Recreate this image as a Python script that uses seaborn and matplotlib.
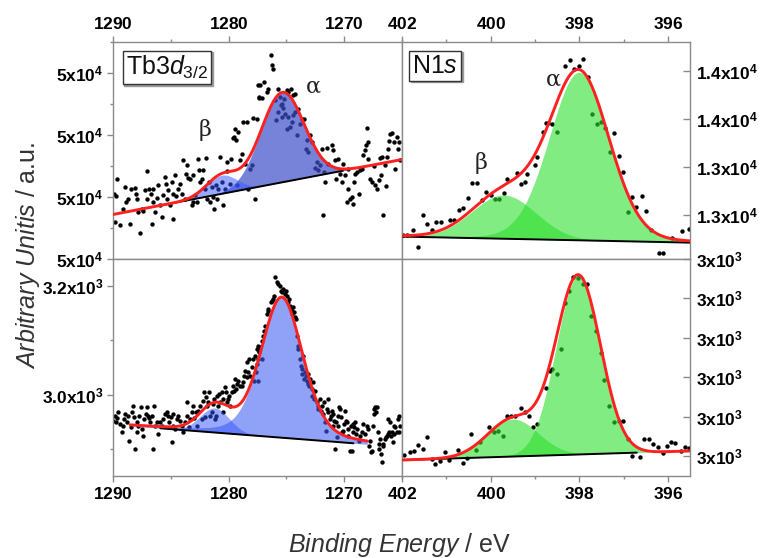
import numpy as np
import matplotlib
matplotlib.use("Agg")
import matplotlib.pyplot as plt
import matplotlib.transforms as mtransforms
from matplotlib.ticker import FixedLocator, FuncFormatter
import seaborn as sns

# -----------------------------
# Data
# -----------------------------
# Tb 3d3/2, upper panel (binding energy eV, counts)
tl_x = [1289.91, 1289.62, 1289.74, 1289.83, 1289.39, 1288.96, 1288.87, 1289.11, 1288.67, 1288.53,
        1288.47, 1288.10, 1288.01, 1287.95, 1287.81, 1287.66, 1287.52, 1287.37, 1287.23, 1287.09,
        1287.03, 1286.85, 1286.74, 1286.65, 1286.57, 1286.51, 1286.36, 1286.22, 1286.08, 1285.93,
        1285.79, 1285.64, 1285.50, 1285.41, 1285.30, 1285.21, 1285.07, 1284.92, 1284.83, 1284.78,
        1284.63, 1284.55, 1284.34, 1284.20, 1284.06, 1283.97, 1283.77, 1283.68, 1283.56, 1283.48,
        1283.33, 1283.19, 1283.10, 1283.05, 1282.90, 1282.70, 1282.61, 1282.53, 1282.47, 1282.32,
        1282.18, 1282.03, 1281.95, 1281.83, 1281.66, 1281.60, 1281.46, 1281.31, 1281.26, 1281.08,
        1280.97, 1280.88, 1280.74, 1280.59, 1280.45, 1280.30, 1280.16, 1280.10, 1279.87, 1279.81,
        1279.64, 1279.52, 1279.44, 1279.35, 1279.29, 1279.15, 1279.00, 1278.86, 1278.72, 1278.57,
        1278.43, 1278.28, 1278.14, 1277.99, 1277.85, 1277.71, 1277.56, 1277.42, 1277.33,
        1276.32, 1276.21, 1276.12, 1277.28, 1276.90, 1276.70, 1277.36, 1277.07, 1276.56, 1275.98,
        1275.75, 1275.55, 1275.40, 1275.17, 1274.97, 1274.82, 1274.59, 1274.39, 1274.25, 1275.69,
        1275.46, 1275.26, 1275.11, 1275.92, 1275.40, 1274.97, 1274.82, 1274.68, 1274.54, 1274.39,
        1274.25, 1274.10, 1273.96, 1273.81, 1273.67, 1273.44, 1273.24, 1273.09, 1273.32, 1272.95,
        1272.80, 1272.52, 1272.37, 1272.23, 1272.08, 1271.94, 1271.71, 1271.79, 1271.65, 1271.50,
        1271.36, 1271.07, 1270.93, 1270.78, 1270.73, 1270.50, 1270.35, 1270.21, 1270.06, 1269.92,
        1269.77, 1269.69, 1269.63, 1269.48, 1269.34, 1269.20, 1269.11, 1269.05, 1268.91, 1268.76,
        1268.62, 1268.47, 1268.33, 1268.24, 1268.13, 1268.04, 1267.96, 1267.90, 1267.75, 1267.61,
        1267.46, 1267.32, 1267.18, 1267.03, 1266.89, 1266.80, 1266.74, 1266.60, 1266.51, 1266.40,
        1266.31, 1266.17, 1266.11, 1266.02, 1265.88, 1265.73, 1265.59, 1265.44, 1265.36, 1265.24,
        1265.16]
tl_y = [48110, 48570, 48034, 47195, 47109, 48324, 47840, 47625, 47948, 47141,
        48249, 48292, 48109, 47948, 47518, 46851, 47625, 47539, 48216, 48829,
        47948, 48270, 48109, 47141, 47840, 48270, 47518, 47969, 48378, 47733,
        47356, 48077, 48646, 48431, 47948, 48216, 47733, 48485, 48109, 47303,
        48700, 48034, 48270, 48431, 48109, 49184, 47948, 48754, 49044, 48614,
        48593, 47733, 47840, 48700, 48055, 47840, 49216, 48861, 48485, 48571,
        48861, 48270, 49259, 47948, 48485, 47840, 48324, 48001, 47625, 48399,
        47948, 48270, 49291, 48485, 47733, 48270, 49130, 48829, 48431, 49238,
        49904, 49936, 50184, 49829, 48378, 50098, 49184, 49399, 50420, 49076,
        50420, 48270, 48915, 49023, 50549, 47948, 50528, 51603, 51226,
        52570, 52248, 52140, 51603, 51710, 51388, 51194, 51194, 51495, 51119,
        51495, 51226, 51011, 51173, 51441, 51388, 51495, 51280, 51334, 50743,
        50958, 50872, 50689, 50474, 50581, 50205, 50581, 50259, 50420, 50635,
        50743, 49990, 50850, 50366, 50528, 50528, 49829, 49453, 49560, 49990,
        49775, 48937, 49130, 48861, 49023, 49560, 48808, 47410, 48485, 49582,
        49076, 49668, 49506, 49184, 48593, 49238, 48754, 48485, 49076, 48700,
        47840, 48270, 48915, 47948, 48001, 47786, 48485, 48754, 48808, 48109,
        48861, 48915, 49345, 49506, 49668, 50227, 49775, 49238, 48571, 48485,
        49001, 48378, 48270, 48539, 49259, 48700, 49291, 47410, 49044, 48356,
        49291, 49560, 49797, 50044, 50076, 49775, 48915, 49936, 49560, 49775,
        49184]

# Tb 3d3/2, lower panel
bl_x = [1289.97, 1289.83, 1289.74, 1289.63, 1289.54, 1289.39, 1289.25, 1289.16, 1289.05, 1288.96,
        1288.82, 1288.67, 1288.59, 1288.47, 1288.38, 1288.24, 1288.18, 1288.10, 1287.95, 1287.89,
        1287.81, 1287.72, 1287.61, 1287.52, 1287.37, 1287.32, 1287.14, 1287.03, 1286.94, 1286.85,
        1286.80, 1286.65, 1286.57, 1286.45, 1286.36, 1286.22, 1286.08, 1285.93, 1285.79, 1285.64,
        1285.50, 1285.35, 1285.21, 1285.12, 1285.01, 1284.92, 1284.83, 1284.78, 1284.63, 1284.49,
        1284.34, 1284.20, 1284.06, 1283.91, 1283.77, 1283.62, 1283.56, 1283.39, 1283.33, 1283.19,
        1283.05, 1282.99, 1282.82, 1282.70, 1282.61, 1282.47, 1282.32, 1282.24, 1282.12, 1282.03,
        1281.95, 1281.89, 1281.75, 1281.66, 1281.60, 1281.46, 1281.37, 1281.26, 1281.17, 1281.08,
        1281.02, 1280.88, 1280.79, 1280.74, 1280.59, 1280.51, 1280.45, 1280.30, 1280.22, 1280.10,
        1280.01, 1279.93, 1279.87, 1279.73, 1279.58, 1279.52, 1279.44, 1279.35, 1279.29, 1279.15,
        1279.00, 1278.86, 1278.72, 1278.66, 1278.57, 1278.43, 1278.37, 1278.28, 1278.20, 1278.14,
        1277.99, 1277.85, 1277.79, 1277.71, 1277.56, 1277.42, 1277.33,
        1275.98, 1275.83, 1275.69, 1275.55, 1275.46, 1275.34, 1275.26, 1275.11, 1275.06, 1274.97,
        1276.27, 1276.12, 1276.04, 1276.32, 1274.82, 1274.77, 1274.68, 1274.59, 1274.54, 1274.48,
        1274.39, 1274.30, 1274.25, 1274.19, 1276.61, 1276.56, 1276.70, 1276.84, 1276.90, 1276.99,
        1277.13, 1277.28, 1277.36, 1277.48, 1277.57, 1277.13, 1277.65, 1277.42, 1274.10, 1274.02,
        1273.96, 1273.81, 1273.73, 1273.67, 1273.61, 1273.53, 1273.44, 1273.38, 1273.32, 1273.24,
        1273.15, 1273.09, 1273.03, 1272.95, 1272.80, 1272.75, 1272.66, 1272.57, 1272.52, 1272.37,
        1272.28, 1272.23, 1272.08, 1272.00, 1271.94, 1271.79, 1271.71, 1271.65, 1271.59, 1271.51,
        1271.42, 1271.36, 1271.22, 1271.13, 1271.07, 1271.01, 1270.93, 1270.84, 1270.78, 1270.72,
        1270.64, 1270.55, 1270.50, 1270.44, 1270.35, 1270.27, 1270.15, 1270.06, 1269.98, 1269.92,
        1269.86, 1269.77, 1269.69, 1269.63, 1269.48, 1269.40, 1269.34, 1269.28, 1269.20, 1269.11,
        1269.05, 1268.99, 1268.91, 1268.76, 1268.62, 1268.47, 1268.33, 1268.19, 1268.04, 1267.90,
        1267.84, 1267.75, 1267.67, 1267.61, 1267.55, 1267.46, 1267.38, 1267.32, 1267.27, 1267.18,
        1267.09, 1267.03, 1266.97, 1266.89, 1266.80, 1266.74, 1266.68, 1266.60, 1266.51, 1266.40,
        1266.31, 1266.23, 1266.17, 1266.11, 1266.02, 1265.94, 1265.88, 1265.82, 1265.73, 1265.65,
        1265.59, 1265.44, 1265.36, 1265.30, 1265.24, 1265.16]
bl_y = [2952.9, 2962.0, 2949.8, 2957.2, 2968.2, 2946.8, 2931.5, 2943.7, 2955.9, 2965.1,
        2949.8, 2962.0, 2916.2, 2940.6, 2968.2, 2980.4, 2959.0, 2900.9, 2931.5, 2949.8,
        2943.7, 2962.0, 2977.3, 2937.6, 2925.4, 2955.9, 2965.1, 2977.3, 2962.0, 2957.2,
        2949.8, 2962.0, 2900.9, 2980.4, 2943.7, 2949.8, 2928.4, 2949.8, 2943.7, 2955.9,
        2965.1, 2968.2, 2962.0, 2949.8, 2959.0, 2914.3, 2943.7, 2965.1, 2937.6, 2955.9,
        2962.0, 2952.9, 2943.7, 2931.5, 2949.8, 2986.5, 2962.0, 2940.6, 2955.9, 2968.2,
        2980.4, 2957.2, 2968.2, 2943.7, 2971.2, 2980.4, 2955.9, 2989.6, 3006.1, 2959.0,
        2995.7, 2980.4, 2986.5, 3004.9, 2962.0, 2968.2, 2983.5, 2992.6, 2955.9, 2962.0,
        2998.7, 2980.4, 3001.8, 2986.5, 3004.9, 2968.2, 2992.6, 3014.0, 3004.9, 2986.5,
        2992.6, 2998.7, 2980.4, 3004.9, 3017.1, 3007.9, 3029.3, 3011.0, 3020.2, 3026.3,
        3017.1, 3017.1, 3023.2, 3034.2, 3044.6, 3059.9, 3032.4, 3041.6, 3066.0, 3035.4,
        3050.7, 3066.0, 3026.3, 3072.1, 3084.4, 3090.5, 3081.3,
        3215.9, 3206.7, 3203.6, 3200.6, 3191.4, 3188.3, 3194.5, 3185.3, 3191.4, 3182.2,
        3173.1, 3176.1, 3182.2, 3170.0, 3170.0, 3176.1, 3163.9, 3157.8, 3154.7, 3148.6,
        3160.8, 3151.6, 3142.5, 3139.4, 3157.8, 3154.7, 3148.6, 3127.2, 3118.0, 3108.8,
        3099.7, 3087.4, 3078.3, 3066.0, 3056.8, 3066.0, 3041.6, 3026.3, 3108.8, 3084.4,
        3090.5, 3066.0, 3053.8, 3047.7, 3038.5, 3072.1, 3029.3, 3041.6, 3035.4, 3026.3,
        3020.2, 3038.5, 3017.1, 3029.3, 3011.0, 2998.7, 3023.2, 2992.6, 3007.9, 2986.5,
        2974.3, 2980.4, 2992.6, 2971.2, 2980.4, 2965.1, 2986.5, 2949.8, 2934.5, 2974.3,
        2968.2, 2992.6, 2955.9, 2962.0, 2971.2, 2943.7, 2965.1, 2952.9, 2900.9, 2949.8,
        2922.3, 2943.7, 2962.0, 2977.3, 2974.3, 2959.0, 2931.5, 2934.5, 2946.8, 2971.2,
        2952.9, 2949.8, 2937.6, 2925.4, 2897.8, 2943.7, 2897.8, 2931.5, 2946.8, 2940.6,
        2949.8, 2928.4, 2937.6, 2916.2, 2925.4, 2931.5, 2946.8, 2928.4, 2943.7, 2937.6,
        2907.0, 2916.2, 2896.0, 2897.8, 2943.7, 2965.1, 2974.3, 2977.3, 2968.2, 2977.3,
        2931.5, 2900.9, 2910.1, 2919.2, 2891.7, 2876.4, 2907.0, 2910.1, 2919.2, 2922.3,
        2925.4, 2928.4, 2955.9, 2931.5, 2949.8, 2925.4, 2931.5, 2913.1, 2943.7, 2928.4,
        2940.6, 2931.5, 2955.9, 2962.0, 2931.5, 2943.7]

# N 1s, upper panel
tr_x = [401.97, 401.88, 401.76, 401.63, 401.53, 401.43, 401.33, 401.23, 401.13, 400.92,
        400.83, 400.71, 400.62, 400.50, 400.41, 400.30, 400.20, 400.11, 400.00, 399.90,
        399.80, 399.70, 399.62, 399.41, 399.32, 399.23, 399.17, 399.00, 398.95, 398.81,
        398.74, 398.71, 398.61, 398.51, 398.31, 398.21, 398.11, 398.01, 397.91, 397.81,
        397.71, 397.61, 397.51, 397.41, 397.21, 397.31, 397.10, 397.01, 396.80, 396.71,
        396.59, 396.50, 396.91, 396.38, 395.90, 395.69, 395.53, 396.20, 396.10]
tr_y = [13118, 13118, 13136, 13067, 13201, 13164, 13136, 13171, 13171, 13178,
        13178, 13222, 13231, 13271, 13335, 13335, 13261, 13296, 13282, 13268,
        13268, 13293, 13351, 13376, 13331, 13338, 13372, 13410, 13442, 13546,
        13585, 13585, 13578, 13546, 13821, 13844, 13810, 13821, 13849, 13775,
        13619, 13581, 13587, 13562, 13543, 13462, 13446, 13379, 13275, 13233,
        13279, 13215, 13212, 13136, 13104, 13132, 13140, 13043, 13043]

# N 1s, lower panel
br_x = [401.96, 401.83, 401.74, 401.63, 401.53, 401.44, 401.33, 401.26, 401.14, 401.04,
        400.93, 400.73, 400.63, 400.54, 400.44, 400.33, 400.24, 400.03, 399.92, 399.83,
        399.73, 399.64, 399.55, 399.45, 399.32, 399.23, 399.13, 399.04, 398.95, 398.74,
        398.66, 398.62, 398.51, 398.41, 398.31, 398.23, 398.14, 398.02, 397.91, 397.83,
        397.74, 397.63, 397.51, 397.44, 397.33, 397.21, 397.10, 397.01, 396.91, 396.80,
        396.63, 396.53, 396.43, 396.33, 396.22, 396.10, 396.01, 395.92, 395.83, 395.71,
        395.62, 395.53]
br_y = [2902.6, 2911.0, 2913.5, 2927.9, 2917.8, 2947.4, 2892.4, 2879.7, 2888.2, 2911.0,
        2890.7, 2916.1, 2882.2, 2894.1, 2955.8, 2916.1, 2936.4, 2972.8, 2960.1, 2964.3,
        2951.6, 3002.4, 3000.7, 3000.7, 3021.8, 3012.5, 3002.4, 2974.5, 2981.2, 3071.8,
        3116.6, 3120.8, 3108.1, 3171.6, 3288.3, 3319.6, 3353.5, 3350.9, 3336.6, 3336.6,
        3254.5, 3218.1, 3161.4, 3093.7, 3027.8, 2985.5, 2989.7, 2989.7, 2943.2, 2900.9,
        2896.6, 2943.2, 2943.2, 2930.5, 2922.0, 2907.6, 2924.5, 2934.7, 2933.0, 2913.5,
        2922.0, 2919.5]

# fitted peaks: centre (eV), height, FWHM (eV), lorentz fraction
tl_alpha = [1275.35, 2900, 4.4, 0.0]
tl_beta = [1280.6, 600, 3.1, 0.0]
bl_alpha = [1275.4, 258, 4.3, 0.3]
bl_beta = [1281.2, 45, 3.0, 0.0]
tr_alpha = [398.0, 700, 1.6, 0.1]
tr_beta = [399.7, 182, 1.7, 0.0]
br_alpha = [398.02, 453, 1.18, 0.0]
br_beta = [399.5, 95, 1.35, 0.0]

# linear backgrounds: two (eV, counts) points
tl_bg = [(1285.07, 47786), (1269.92, 48861)]
bl_bg = [(1285.93, 2938.9), (1269.2, 2911.4)]
tr_bg = [(401.97, 13110), (395.5, 13085)]
br_bg = [(401.97, 2889.8), (396.71, 2908.4)]

# energy span of fit envelope and of drawn background line
tl_fit_span, tl_bg_span = (1290.0, 1265.0), (1285.9, 1270.1)
bl_fit_span, bl_bg_span = (1288.5, 1268.0), (1285.9, 1269.2)
tr_fit_span, tr_bg_span = (402.0, 395.5), (402.0, 395.5)
br_fit_span, br_bg_span = (402.0, 395.5), (402.0, 396.7)

# axis ticks
tb_major_x = [1290, 1280, 1270]
tb_minor_x = [1285, 1275, 1265]
n_major_x = [402, 400, 398, 396]
n_minor_x = [401, 399, 397]
tl_yticks, tl_yminor = [46000, 48000, 50000, 52000], [47000, 49000, 51000, 53000]
bl_yticks, bl_yminor = [3000, 3200], [2900, 3100]
tr_yticks = [13200, 13400, 13600, 13800]
br_yticks = [2900, 3000, 3100, 3200, 3300, 3400]

# -----------------------------
# Style
# -----------------------------
sns.set_theme(style="white")
plt.rcParams["font.family"] = ["Liberation Sans", "DejaVu Sans"]
plt.rcParams["mathtext.fontset"] = "custom"
plt.rcParams["mathtext.rm"] = "Liberation Sans"
plt.rcParams["mathtext.it"] = "Liberation Sans:italic"
plt.rcParams["mathtext.bf"] = "Liberation Sans:bold"
plt.rcParams["mathtext.default"] = "bf"

FRAME = "#8a8a8a"
RED = "#ff2020"


def pv(x, p):
    c, h, w, eta = p
    g = np.exp(-4 * np.log(2) * (x - c) ** 2 / w ** 2)
    l = 1 / (1 + 4 * (x - c) ** 2 / w ** 2)
    return h * ((1 - eta) * g + eta * l)


def line(x, bg):
    (x0, y0), (x1, y1) = bg
    return y0 + (y1 - y0) * (x - x0) / (x1 - x0)


def panel(ax, xs, ys, peaks, bg, fit_span, bg_span, colors, alphas):
    sns.scatterplot(x=xs, y=ys, ax=ax, color="black", s=10, linewidth=0, zorder=1)
    e = np.linspace(fit_span[0], fit_span[1], 600)
    base = line(e, bg)
    total = base.copy()
    for p, c, a in zip(peaks, colors, alphas):
        comp = pv(e, p)
        total += comp
        ax.fill_between(e, base, base + comp, where=comp > 0.006 * p[1],
                        color=c, alpha=a, linewidth=0, zorder=2)
    eb = np.linspace(bg_span[0], bg_span[1], 50)
    ax.plot(eb, line(eb, bg), color="black", lw=1.4, zorder=3)
    ax.plot(e, total, color=RED, lw=2.1, zorder=4)
    ax.set_xlabel("")
    ax.set_ylabel("")
    for s in ax.spines.values():
        s.set_color(FRAME)
        s.set_linewidth(1.0)


def fmt(scale, exp, dec):
    return FuncFormatter(lambda v, pos: r"$%.*fx10^{%d}$" % (dec, v / scale, exp))


fig = plt.figure(figsize=(7.67, 5.58), dpi=100)
ax_tl = fig.add_axes([0.1473, 0.5358, 0.3768, 0.3889])
ax_tr = fig.add_axes([0.5241, 0.5358, 0.3755, 0.3889])
ax_bl = fig.add_axes([0.1473, 0.1470, 0.3768, 0.3889])
ax_br = fig.add_axes([0.5241, 0.1470, 0.3755, 0.3889])

blue_a, blue_b = "#3d4fc8", "#3355ff"
panel(ax_tl, tl_x, tl_y, [tl_alpha, tl_beta], tl_bg, tl_fit_span, tl_bg_span,
      [blue_a, blue_b], [0.7, 0.5])
panel(ax_bl, bl_x, bl_y, [bl_alpha, bl_beta], bl_bg, bl_fit_span, bl_bg_span,
      ["#4060f2", blue_b], [0.58, 0.5])
panel(ax_tr, tr_x, tr_y, [tr_alpha, tr_beta], tr_bg, tr_fit_span, tr_bg_span,
      ["#2ee02e", "#2ee02e"], [0.6, 0.6])
panel(ax_br, br_x, br_y, [br_alpha, br_beta], br_bg, br_fit_span, br_bg_span,
      ["#2ee02e", "#2ee02e"], [0.6, 0.6])

# limits
for ax in (ax_tl, ax_bl):
    ax.set_xlim(1290, 1265)
for ax in (ax_tr, ax_br):
    ax.set_xlim(402, 395.5)
ax_tl.set_ylim(46000, 53000)
ax_bl.set_ylim(2851.4, 3249.5)
ax_tr.set_ylim(13016.7, 13920.8)
ax_br.set_ylim(2849.2, 3400)

# ticks
tick_kw = dict(labelsize=12.5, colors=FRAME, labelcolor="black", width=1.0)
for ax, top in ((ax_tl, True), (ax_tr, True), (ax_bl, False), (ax_br, False)):
    if ax in (ax_tl, ax_bl):
        ax.xaxis.set_major_locator(FixedLocator(tb_major_x))
        ax.xaxis.set_minor_locator(FixedLocator(tb_minor_x))
    else:
        ax.xaxis.set_major_locator(FixedLocator(n_major_x))
        ax.xaxis.set_minor_locator(FixedLocator(n_minor_x))
    ax.xaxis.set_major_formatter(FuncFormatter(lambda v, p: r"$%d$" % v))
    ax.tick_params(axis="x", which="both", direction="out", top=top, bottom=not top,
                   labeltop=top, labelbottom=not top, **tick_kw)
    ax.tick_params(axis="x", which="major", length=4, pad=3)
    ax.tick_params(axis="x", which="minor", length=2.5)

for ax in (ax_tl, ax_bl):
    ax.tick_params(axis="y", which="both", direction="out", left=True, right=False,
                   labelleft=True, labelright=False, **tick_kw)
    ax.tick_params(axis="y", which="major", length=4, pad=3)
    ax.tick_params(axis="y", which="minor", length=2.5)
for ax in (ax_tr, ax_br):
    ax.tick_params(axis="y", which="both", direction="in", left=False, right=True,
                   labelleft=False, labelright=True, **tick_kw)
    ax.tick_params(axis="y", which="major", length=5, pad=4)

ax_tl.yaxis.set_major_locator(FixedLocator(tl_yticks))
ax_tl.yaxis.set_minor_locator(FixedLocator(tl_yminor))
ax_tl.yaxis.set_major_formatter(fmt(1e4, 4, 0))
ax_bl.yaxis.set_major_locator(FixedLocator(bl_yticks))
ax_bl.yaxis.set_minor_locator(FixedLocator(bl_yminor))
ax_bl.yaxis.set_major_formatter(fmt(1e3, 3, 1))
ax_tr.yaxis.set_major_locator(FixedLocator(tr_yticks))
ax_tr.yaxis.set_major_formatter(fmt(1e4, 4, 1))
ax_br.yaxis.set_major_locator(FixedLocator(br_yticks))
ax_br.yaxis.set_major_formatter(fmt(1e3, 3, 0))


# panel labels with a shadowed box
def boxed(ax, x, y, txt):
    shadow = mtransforms.offset_copy(ax.transAxes, fig=fig, x=1.5, y=-1.5, units="dots")
    box = dict(boxstyle="square,pad=0.12", fc="white", ec="#333333", lw=1.0)
    ax.text(x, y, txt, transform=shadow, fontsize=18, va="top", ha="left",
            color="none", bbox=dict(boxstyle="square,pad=0.12", fc="#9a9a9a", ec="#9a9a9a", lw=1.0),
            zorder=5)
    ax.text(x, y, txt, transform=ax.transAxes, fontsize=18, va="top", ha="left",
            color="#111111", bbox=box, zorder=6)


boxed(ax_tl, 0.045, 0.945, r"Tb$\mathit{3d}_{\mathit{3/2}}$")
boxed(ax_tr, 0.035, 0.945, r"N$\mathit{1s}$")

greek = dict(fontsize=16, family=["DejaVu Serif"], color="#222222", ha="center", va="center")
ax_tl.text(0.318, 0.594, "β", transform=ax_tl.transAxes, **greek)
ax_tl.text(0.692, 0.797, "α", transform=ax_tl.transAxes, **greek)
ax_tr.text(0.274, 0.442, "β", transform=ax_tr.transAxes, **greek)
ax_tr.text(0.524, 0.825, "α", transform=ax_tr.transAxes, **greek)

fig.text(0.037, 0.543, r"$\mathit{Arbitrary\ Unitis}$ / a.u.", rotation=90,
         ha="center", va="center", fontsize=18, color="#333333")
fig.text(0.521, 0.023, r"$\mathit{Binding\ Energy}$ / eV",
         ha="center", va="center", fontsize=18, color="#333333")

fig.savefig("out.png", dpi=100)
